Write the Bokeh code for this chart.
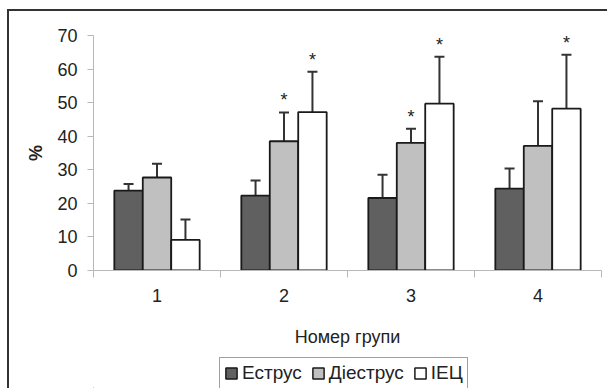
from bokeh.plotting import figure
from bokeh.layouts import column
from bokeh.models import (Range1d, FixedTicker, Whisker, TeeHead, ColumnDataSource, Legend,
                          LegendItem)
from bokeh.embed import file_html
from bokeh.resources import INLINE
from bokeh.core.properties import value

groups = ["1", "2", "3", "4"]
series = ["Еструс", "Діеструс", "IEЦ"]
estrus = [23.8, 22.3, 21.6, 24.4]
estrus_err = [2.0, 4.5, 6.9, 6.0]
diestrus = [27.7, 38.5, 38.0, 37.1]
diestrus_err = [4.1, 8.6, 4.2, 13.3]
iec = [9.1, 47.2, 49.7, 48.2]
iec_err = [6.1, 12.0, 14.0, 16.1]
stars_estrus = [0, 0, 0, 0]
stars_diestrus = [0, 1, 1, 0]
stars_iec = [0, 1, 1, 1]
y_ticks = [0, 10, 20, 30, 40, 50, 60, 70]

colors = ["#606060", "#c0c0c0", "#ffffff"]
FONT = "Liberation Sans"
BAR_W = 0.224

p = figure(width=598, height=345, output_backend="svg", toolbar_location=None,
           x_range=Range1d(0, len(groups)), y_range=Range1d(0, 70),
           min_border_left=84, min_border_right=6, min_border_top=24, min_border_bottom=86)
p.background_fill_color = "white"
p.border_fill_color = "white"
p.outline_line_color = None
p.xgrid.visible = False
p.ygrid.visible = False

for k, (name, vals, errs, stars, col) in enumerate(zip(
        series, [estrus, diestrus, iec], [estrus_err, diestrus_err, iec_err],
        [stars_estrus, stars_diestrus, stars_iec], colors)):
    xs = [i + 0.5 + (k - 1) * BAR_W for i in range(len(groups))]
    src = ColumnDataSource(dict(x=xs, top=vals, upper=[v + e for v, e in zip(vals, errs)]))
    p.vbar(x="x", top="top", bottom=0, width=BAR_W, source=src,
           fill_color=col, line_color="#1a1a1a", line_width=1.8)
    w = Whisker(source=src, base="x", lower="top", upper="upper", dimension="height",
                line_color="#333333", line_width=2, lower_head=None,
                upper_head=TeeHead(size=10, line_color="#333333", line_width=2))
    p.add_layout(w)
    sx = [x for x, s in zip(xs, stars) if s]
    sy = [v + e for v, e, s in zip(vals, errs, stars) if s]
    if sx:
        p.text(x=sx, y=sy, text=["*"] * len(sx), text_align="center", text_baseline="middle",
               y_offset=-12, text_font=value(FONT), text_font_size="18px", text_color="#222222")

# y axis
yax = p.yaxis[0]
yax.ticker = FixedTicker(ticks=y_ticks)
yax.axis_line_color = "#b8b8b8"
yax.major_tick_line_color = "#b8b8b8"
yax.major_tick_out = 6
yax.major_tick_in = 0
yax.minor_tick_line_color = None
yax.major_label_text_font = FONT
yax.major_label_text_font_size = "18px"
yax.major_label_text_color = "#222222"
yax.major_label_standoff = 10
yax.axis_label = "%"
yax.axis_label_text_font = FONT
yax.axis_label_text_font_size = "18px"
yax.axis_label_text_font_style = "bold"
yax.axis_label_text_color = "#222222"
yax.axis_label_standoff = 8

# x axis
xax = p.xaxis[0]
centers = [i + 0.5 for i in range(len(groups))]
xax.ticker = FixedTicker(ticks=centers, minor_ticks=list(range(len(groups) + 1)))
xax.major_label_overrides = {c: g for c, g in zip(centers, groups)}
xax.axis_line_color = "#b8b8b8"
xax.major_tick_line_color = None
xax.major_tick_out = 0
xax.major_tick_in = 0
xax.minor_tick_line_color = "#b8b8b8"
xax.minor_tick_out = 7
xax.minor_tick_in = 0
xax.major_label_text_font = FONT
xax.major_label_text_font_size = "18px"
xax.major_label_text_color = "#222222"
xax.major_label_standoff = 11
xax.axis_label = "Номер групи"
xax.axis_label_text_font = FONT
xax.axis_label_text_font_size = "18px"
xax.axis_label_text_font_style = "normal"
xax.axis_label_text_color = "#222222"
xax.axis_label_standoff = 22

# legend strip below the chart
p2 = figure(width=598, height=32, output_backend="svg", toolbar_location=None,
            x_range=Range1d(0, 1), y_range=Range1d(0, 1),
            x_axis_location=None, y_axis_location=None,
            min_border_left=0, min_border_right=0, min_border_top=0, min_border_bottom=0)
p2.outline_line_color = None
p2.xgrid.visible = False
p2.ygrid.visible = False
p2.background_fill_color = "white"
p2.border_fill_color = "white"
# legend carriers: one bar each, placed outside the visible range
leg_renderers = [p2.vbar(x=[-5], top=[-5], bottom=-6, width=0.1, fill_color=c,
                         line_color="#1a1a1a", line_width=1.5)
                 for c in colors]
legend = Legend(items=[LegendItem(label=s, renderers=[r]) for s, r in zip(series, leg_renderers)],
                orientation="horizontal", location=(126, -1),
                glyph_width=14, glyph_height=14, label_standoff=4, spacing=9, padding=4,
                margin=0, label_height=18,
                label_text_font=FONT, label_text_font_size="19px", label_text_color="#222222",
                border_line_color="#444444", border_line_width=1,
                background_fill_color="white", background_fill_alpha=1)
p2.add_layout(legend)

layout = column(p, p2, spacing=0,
                styles={"margin-left": "7px", "margin-top": "9px",
                        "border-top": "2px solid #333333", "border-left": "2px solid #333333"})

open("out.html", "w").write(file_html(layout, INLINE))
